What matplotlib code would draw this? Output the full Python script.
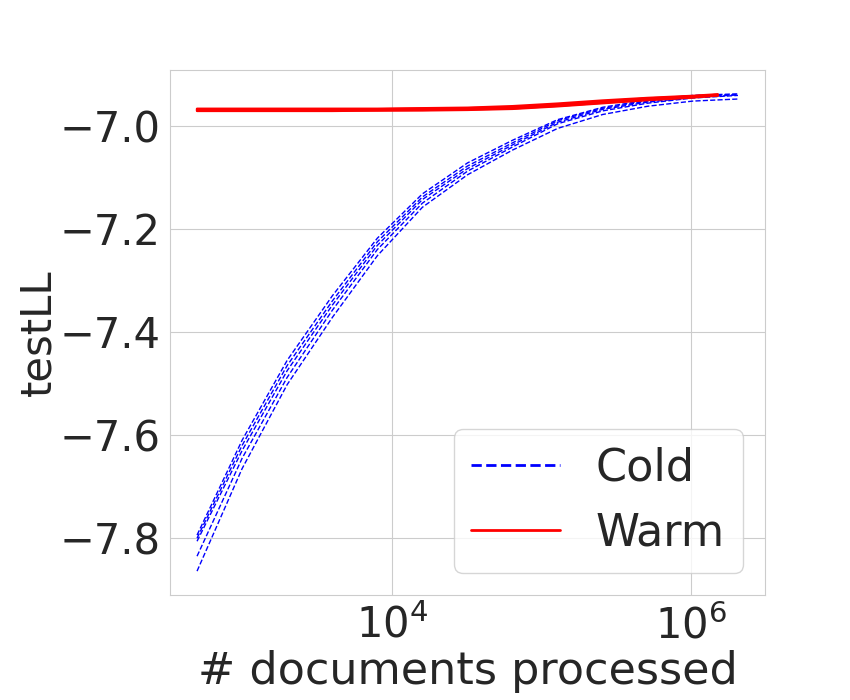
import numpy as np
import matplotlib
matplotlib.use('Agg')
import matplotlib.pyplot as plt
from matplotlib.lines import Line2D
import seaborn as sns

# documents processed (log-spaced checkpoints)
cold_x = [500, 1000, 2000, 4000, 8000, 16000, 32000, 64000, 128000,
          256000, 512000, 1024000, 2048000]
warm_x = [500, 1000, 2000, 4000, 8000, 16000, 32000, 64000, 128000,
          256000, 512000, 1024000, 1500000]

# testLL, one list per run
cold_runs = [
    [-7.794, -7.610, -7.455, -7.330, -7.218, -7.132, -7.072, -7.028, -6.988, -6.964, -6.950, -6.941, -6.938],
    [-7.800, -7.620, -7.465, -7.340, -7.225, -7.138, -7.078, -7.033, -6.990, -6.966, -6.952, -6.943, -6.939],
    [-7.806, -7.630, -7.475, -7.348, -7.232, -7.143, -7.083, -7.037, -6.993, -6.968, -6.954, -6.945, -6.940],
    [-7.835, -7.645, -7.488, -7.358, -7.240, -7.150, -7.088, -7.041, -6.996, -6.971, -6.956, -6.946, -6.941],
    [-7.864, -7.665, -7.502, -7.372, -7.252, -7.158, -7.095, -7.047, -7.005, -6.978, -6.962, -6.952, -6.948],
]
warm_runs = [
    [-6.967, -6.967, -6.967, -6.967, -6.967, -6.966, -6.965, -6.962, -6.957, -6.951, -6.946, -6.942, -6.939],
    [-6.968, -6.968, -6.968, -6.968, -6.968, -6.967, -6.966, -6.964, -6.959, -6.953, -6.947, -6.943, -6.940],
    [-6.969, -6.969, -6.969, -6.969, -6.969, -6.968, -6.967, -6.965, -6.960, -6.954, -6.948, -6.943, -6.940],
    [-6.970, -6.970, -6.970, -6.970, -6.970, -6.969, -6.968, -6.966, -6.961, -6.955, -6.949, -6.944, -6.941],
    [-6.971, -6.971, -6.971, -6.971, -6.970, -6.970, -6.969, -6.967, -6.962, -6.956, -6.950, -6.945, -6.941],
]

sns.set_style('whitegrid')
plt.rcParams['font.family'] = ['DejaVu Sans']

fig, ax = plt.subplots(figsize=(8.5, 7), dpi=100)
fig.subplots_adjust(left=0.2, right=0.9, bottom=0.15, top=0.9)

for run in cold_runs:
    ax.plot(cold_x, run, 'b--', linewidth=1)
for run in warm_runs:
    ax.plot(warm_x, run, 'r-', linewidth=1.8)

ax.set_xscale('log')
ax.set_xticks([1e4, 1e6])
ax.xaxis.set_minor_locator(matplotlib.ticker.NullLocator())
ax.set_yticks([-7.8, -7.6, -7.4, -7.2, -7.0])
ax.tick_params(labelsize=30)
ax.set_xlabel('# documents processed', fontsize=32, labelpad=2)
ax.set_ylabel('testLL', fontsize=30, labelpad=0)

handles = [Line2D([], [], color='b', linestyle='--', linewidth=2),
           Line2D([], [], color='r', linestyle='-', linewidth=2)]
ax.legend(handles, ['Cold', 'Warm'], loc='lower right', fontsize=32)

fig.savefig('out.png')
